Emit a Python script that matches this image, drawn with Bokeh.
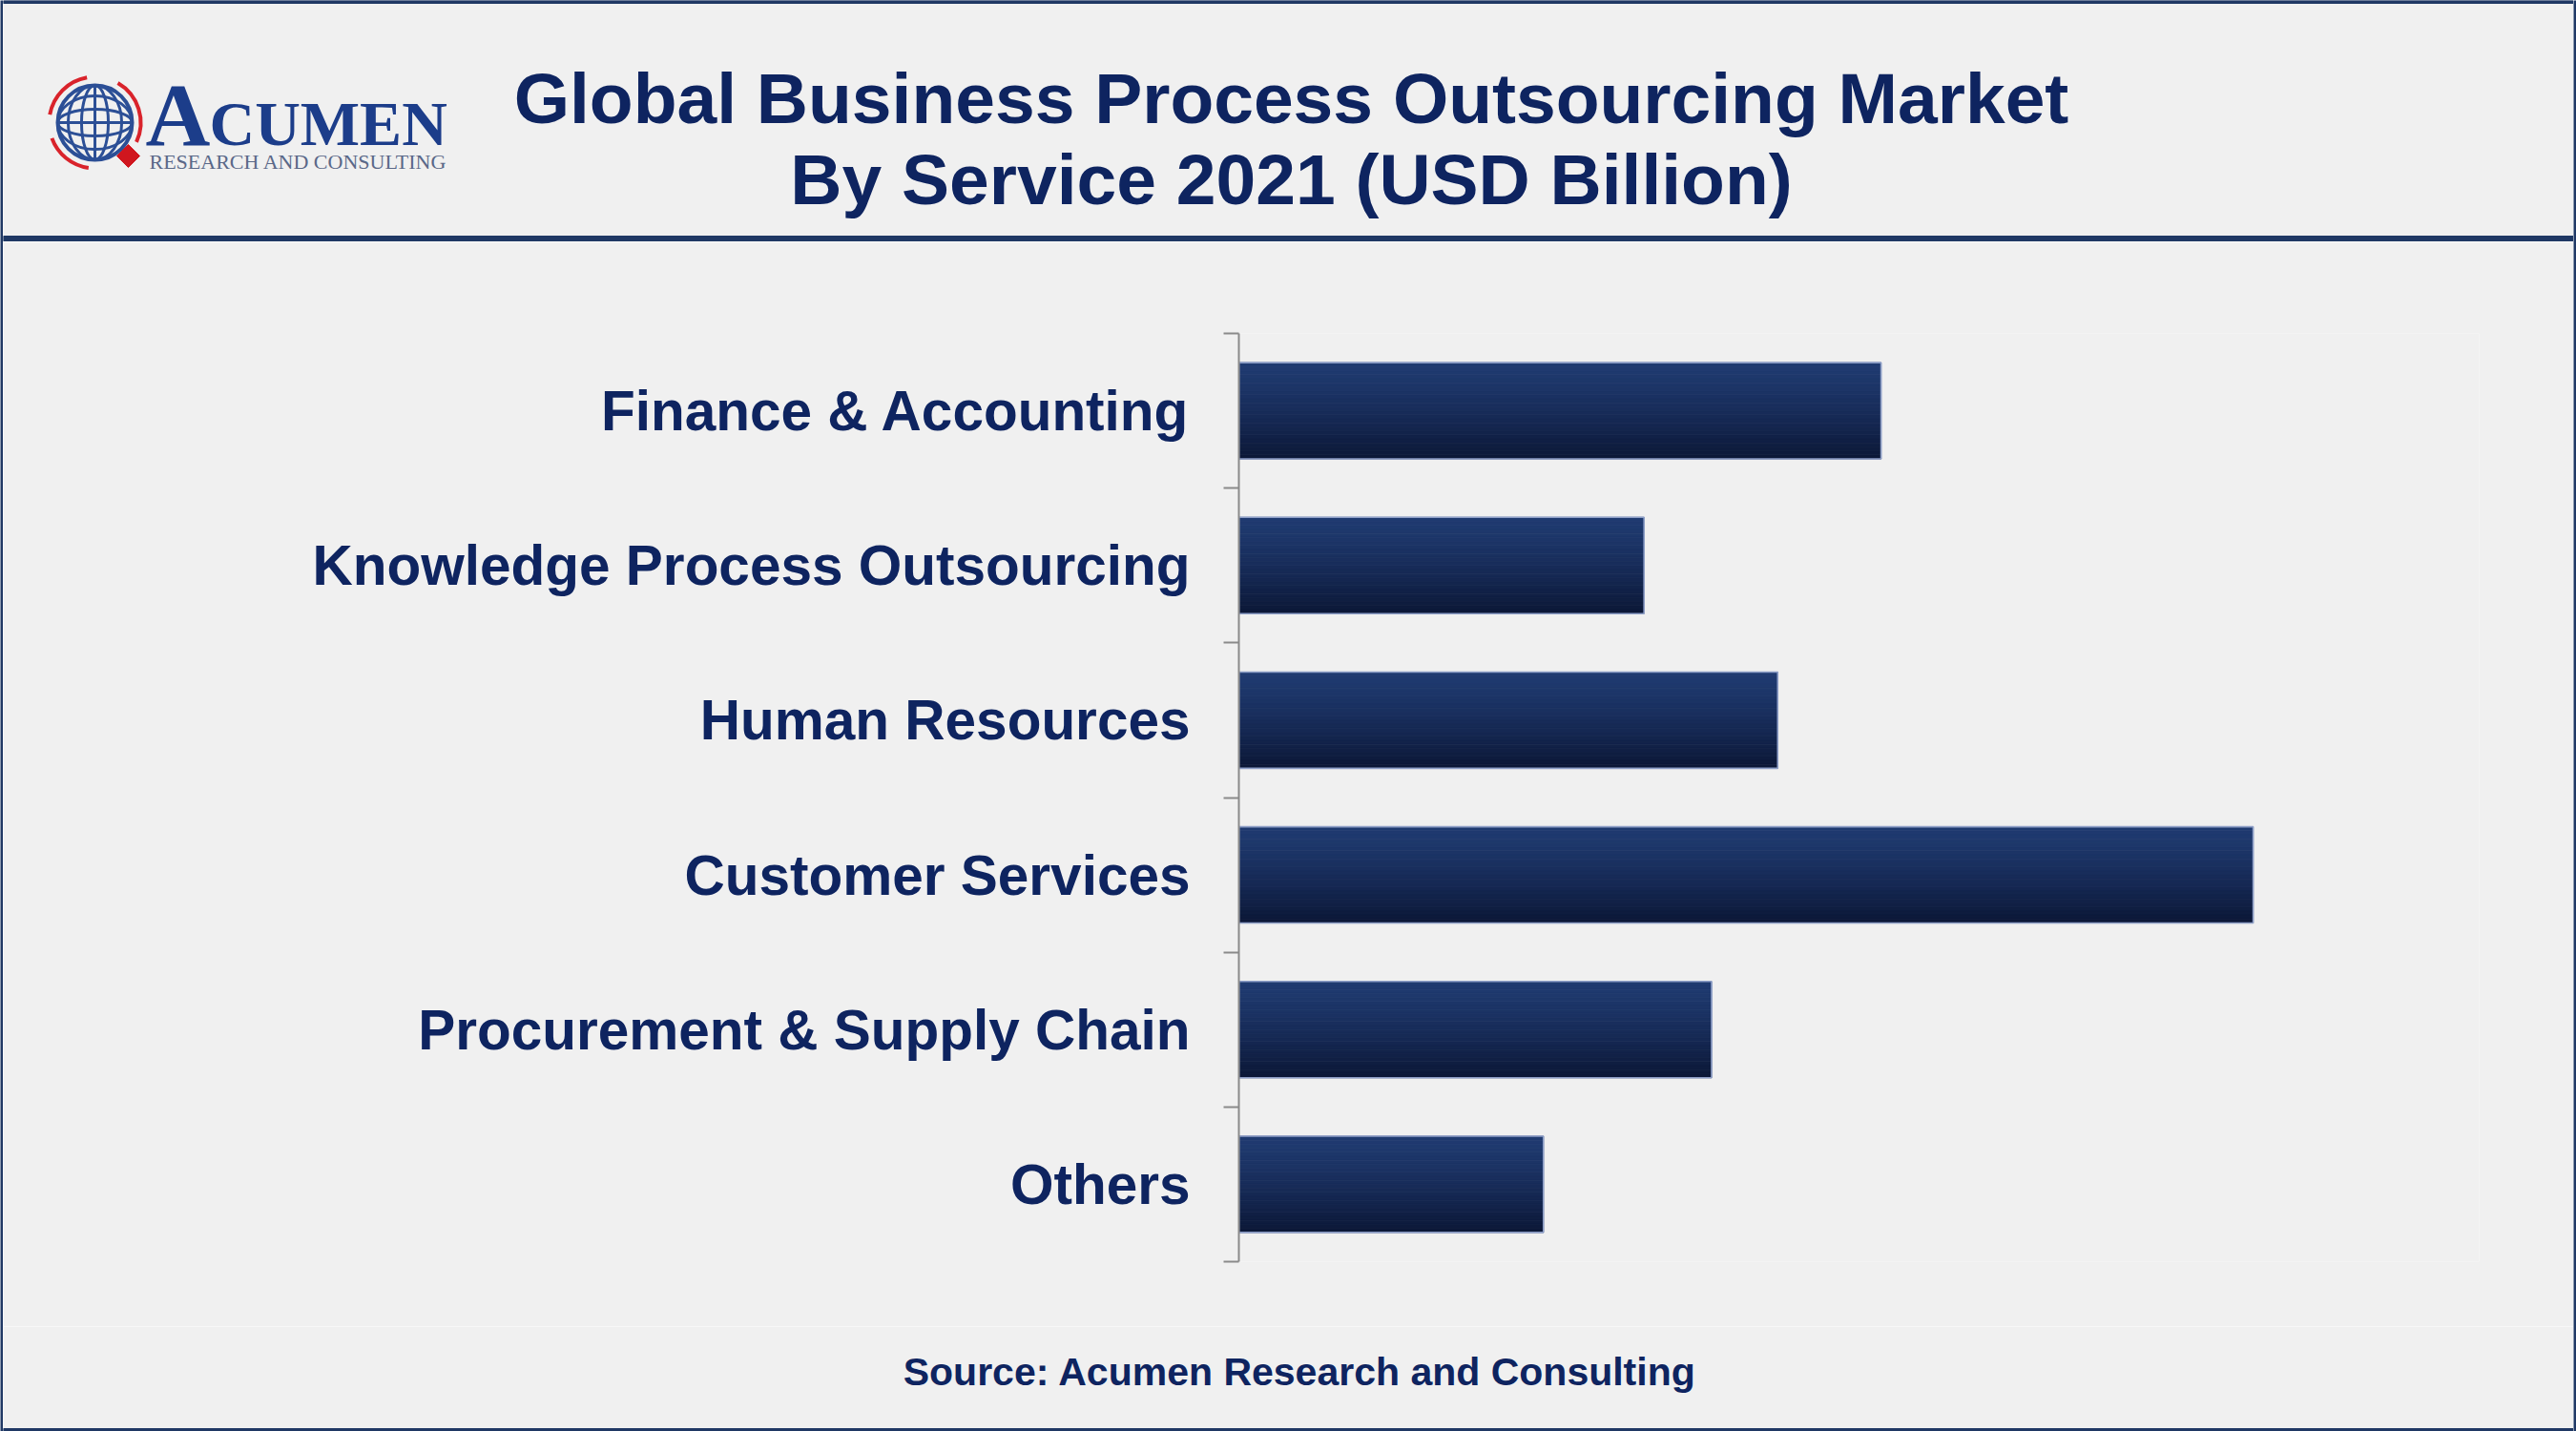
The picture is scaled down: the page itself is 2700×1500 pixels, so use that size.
import numpy as np
from bokeh.plotting import figure
from bokeh.models import Range1d, FixedTicker
from bokeh.layouts import row, column
from bokeh.embed import file_html
from bokeh.resources import INLINE
from bokeh.core.properties import value

# ---------------- data ----------------
categories = [
    "Finance & Accounting",
    "Knowledge Process Outsourcing",
    "Human Resources",
    "Customer Services",
    "Procurement & Supply Chain",
    "Others",
]
values = [46.6, 29.4, 39.1, 73.6, 34.3, 22.1]   # USD Billion (estimated)
title_lines = ["Global Business Process Outsourcing Market",
               "By Service 2021 (USD Billion)"]
source_text = "Source: Acumen Research and Consulting"

# ---------------- styles ----------------
BG = "#f0f0f0"
NAVY = "#1f3864"
TXT = "#0e2460"
FONT = "Liberation Sans"
SERIF = "Liberation Serif"


def no_align(f):
    try:
        f.frame_align = False
    except Exception:
        pass
    return f


def blank(w, h, xr, yr, bg=BG):
    f = figure(width=w, height=h, x_range=xr, y_range=yr,
               output_backend="svg", toolbar_location=None, min_border=0,
               background_fill_color=bg, border_fill_color=bg,
               outline_line_color=None, x_axis_location=None,
               y_axis_location=None)
    for g in list(f.xgrid) + list(f.ygrid):
        g.visible = False
    return no_align(f)


# ---------------- header ----------------
header = blank(2694, 253, Range1d(3, 2697), Range1d(253, 0))
header.quad(left=[3], right=[2697], top=[0], bottom=[3], color=NAVY)
header.quad(left=[3], right=[2697], top=[247], bottom=[253], color=NAVY)
header.text(x=[1353, 1353], y=[102, 187], text=title_lines,
            text_font=value(FONT), text_font_style="bold",
            text_font_size="75px", text_color=TXT,
            text_align="center", text_baseline="alphabetic")

# logo
gx, gy, gr = 99, 128, 39
BLUE = "#2c4f96"
RED = "#d9232b"
header.ellipse(x=[gx] * 5, y=[gy] * 5,
               width=[2 * gr, 2 * gr * 0.36, 2 * gr * 0.72, 2 * gr, 2 * gr],
               height=[2 * gr, 2 * gr, 2 * gr, 2 * gr * 0.36, 2 * gr * 0.72],
               fill_color=None, line_color=BLUE,
               line_width=[4, 3, 3, 3, 3])
header.segment(x0=[gx - gr, gx], y0=[gy, gy - gr], x1=[gx + gr, gx], y1=[gy, gy + gr],
               line_color=BLUE, line_width=3)
header.arc(x=[gx] * 3, y=[gy] * 3, radius=48,
           start_angle=[np.radians(-25), np.radians(100), np.radians(200)],
           end_angle=[np.radians(60), np.radians(170), np.radians(262)],
           line_color=RED, line_width=4)
header.scatter(x=[134], y=[163], marker="square", size=17, angle=np.pi / 4,
               fill_color="#d0161e", line_color="#d0161e")
header.text(x=[152], y=[119], text=["A"], text_font=value(SERIF),
            text_font_style="bold",
            text_font_size="94px", text_color="#1c3d8a",
            text_align="left", text_baseline="alphabetic")
header.text(x=[219], y=[129], text=["CUMEN"], text_font=value(SERIF),
            text_font_style="bold",
            text_font_size="66px", text_color="#1c3d8a",
            text_align="left", text_baseline="alphabetic")
header.text(x=[156], y=[169], text=["RESEARCH AND CONSULTING"],
            text_font=value(SERIF), text_font_size="22px",
            text_color="#5a6888", text_align="left",
            text_baseline="alphabetic")

# ---------------- main chart ----------------
main = figure(width=2694, height=1137,
              x_range=Range1d(0, 90), y_range=Range1d(5.5, -0.5),
              output_backend="svg", toolbar_location=None,
              min_border_left=1295, min_border_right=99,
              min_border_top=96, min_border_bottom=68,
              background_fill_color=BG, border_fill_color=BG,
              outline_line_color=None, x_axis_location=None)
no_align(main)
main.xgrid.visible = False
main.ygrid.visible = False

idx = np.arange(len(categories), dtype=float)
H = 0.622
N = 24
top_rgb = np.array([31, 58, 112])
bot_rgb = np.array([12, 24, 56])
for k in range(N):
    t = k / (N - 1)
    t = t ** 1.3
    c = top_rgb * (1 - t) + bot_rgb * t
    col = "#%02x%02x%02x" % tuple(int(round(v)) for v in c)
    yk = idx - H / 2 + (k + 0.5) * H / N
    main.hbar(y=yk, left=0, right=values, height=H / N,
              fill_color=col, line_color=col, line_width=0.8)
main.hbar(y=idx, left=0, right=values, height=H, fill_color=None,
          line_color="#8e9fc8", line_width=1.6)

ax = main.yaxis[0]
ax.ticker = FixedTicker(ticks=[float(i) for i in idx],
                        minor_ticks=[float(i) - 0.5 for i in range(len(categories) + 1)])
ax.major_label_overrides = {int(i): c for i, c in zip(idx, categories)}
ax.axis_line_color = "#8a8a8a"
ax.axis_line_width = 2
ax.major_tick_line_color = None
ax.major_tick_out = 0
ax.major_tick_in = 0
ax.minor_tick_line_color = "#8a8a8a"
ax.minor_tick_line_width = 2
ax.minor_tick_out = 16
ax.minor_tick_in = 0
ax.major_label_standoff = 35
ax.major_label_text_font = FONT
ax.major_label_text_font_style = "bold"
ax.major_label_text_font_size = "58.5px"
ax.major_label_text_color = TXT

# ---------------- footer ----------------
footer = blank(2694, 110, Range1d(3, 2697), Range1d(1500, 1390))
footer.text(x=[1362], y=[1437], text=[source_text], text_font=value(FONT),
            text_font_style="bold", text_font_size="41px", text_color=TXT,
            text_align="center", text_baseline="alphabetic")
footer.quad(left=[3], right=[2697], top=[1497], bottom=[1500], color=NAVY)

# ---------------- side borders ----------------
lstrip = blank(3, 1500, Range1d(0, 1), Range1d(0, 1), bg=NAVY)
rstrip = blank(3, 1500, Range1d(0, 1), Range1d(0, 1), bg=NAVY)

layout = row(lstrip, column(header, main, footer), rstrip)

open("out.html", "w").write(file_html(layout, INLINE))
